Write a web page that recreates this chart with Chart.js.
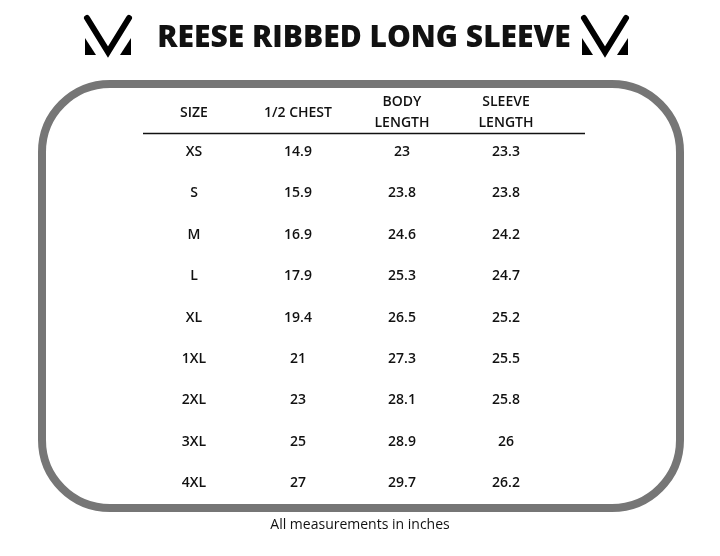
<!DOCTYPE html>
<html>
<head>
<meta charset="utf-8">
<script src="https://cdn.jsdelivr.net/npm/chart.js@4/dist/chart.umd.min.js"></script>
<style>
  html, body { margin: 0; padding: 0; background: #fff; }
  #wrap { width: 720px; height: 556px; }
</style>
</head>
<body>
<div id="wrap"><canvas id="c"></canvas></div>
<script>
const sizes = ['XS', 'S', 'M', 'L', 'XL', '1XL', '2XL', '3XL', '4XL'];
const chest = ['14.9', '15.9', '16.9', '17.9', '19.4', '21', '23', '25', '27'];
const bodyLength = ['23', '23.8', '24.6', '25.3', '26.5', '27.3', '28.1', '28.9', '29.7'];
const sleeveLength = ['23.3', '23.8', '24.2', '24.7', '25.2', '25.5', '25.8', '26', '26.2'];
const headers = [['SIZE'], ['1/2 CHEST'], ['BODY', 'LENGTH'], ['SLEEVE', 'LENGTH']];
const columns = [sizes, chest, bodyLength, sleeveLength];

const FONT = '"Open Sans", "Noto Sans", sans-serif';

function logo(ctx, x) {
  ctx.save();
  ctx.strokeStyle = '#000';
  ctx.fillStyle = '#000';
  ctx.lineWidth = 6;
  ctx.lineCap = 'round';
  ctx.beginPath();
  ctx.moveTo(x + 2, 18);
  ctx.lineTo(x + 23, 52);
  ctx.lineTo(x + 44, 18);
  ctx.stroke();
  ctx.beginPath();
  ctx.moveTo(x, 38); ctx.lineTo(x, 55); ctx.lineTo(x + 11, 55); ctx.closePath(); ctx.fill();
  ctx.beginPath();
  ctx.moveTo(x + 46, 38); ctx.lineTo(x + 46, 55); ctx.lineTo(x + 35, 55); ctx.closePath(); ctx.fill();
  ctx.restore();
}

const tablePlugin = {
  id: 'table',
  beforeDatasetsDraw(chart) {
    const ctx = chart.ctx;
    const xs = chart.scales.x, ys = chart.scales.y;
    ctx.save();
    // frame
    ctx.strokeStyle = '#767676';
    ctx.lineWidth = 8;
    ctx.beginPath();
    ctx.roundRect(42, 84, 638, 424, 68);
    ctx.stroke();
    // title
    ctx.fillStyle = '#111';
    ctx.textAlign = 'center';
    ctx.textBaseline = 'middle';
    ctx.font = '800 30px ' + FONT;
    ctx.fillText('REESE RIBBED LONG SLEEVE', 364, 38);
    logo(ctx, 85);
    logo(ctx, 582);
    // headers
    ctx.font = '600 14px ' + FONT;
    headers.forEach((h, i) => {
      const px = xs.getPixelForValue(i);
      const py = ys.getPixelForValue(-1);
      if (h.length === 1) ctx.fillText(h[0], px, py + 2);
      else { ctx.fillText(h[0], px, py - 9); ctx.fillText(h[1], px, py + 12); }
    });
    ctx.strokeStyle = '#111';
    ctx.lineWidth = 1.5;
    const ly = ys.getPixelForValue(-0.45);
    ctx.beginPath();
    ctx.moveTo(143, ly); ctx.lineTo(585, ly);
    ctx.stroke();
    // cells
    ctx.font = '600 14px ' + FONT;
    columns.forEach((col, i) => {
      col.forEach((v, r) => {
        ctx.fillText(v, xs.getPixelForValue(i), ys.getPixelForValue(r));
      });
    });
    ctx.font = '500 14px ' + FONT;
    ctx.fillText('All measurements in inches', 360, 525);
    ctx.restore();
  }
};

new Chart(document.getElementById('c'), {
  type: 'scatter',
  data: {
    datasets: columns.map((col, i) => ({
      data: col.map((v, r) => ({ x: i, y: r })),
      pointRadius: 0
    }))
  },
  options: {
    responsive: true,
    maintainAspectRatio: false,
    animation: false,
    layout: { padding: { left: 90, right: 110, top: 90, bottom: 52 } },
    scales: {
      x: { type: 'linear', min: -1, max: 4, display: false },
      y: { type: 'linear', min: -1.5, max: 8.5, reverse: true, display: false }
    },
    plugins: { legend: { display: false }, tooltip: { enabled: false } }
  },
  plugins: [tablePlugin]
});
</script>
</body>
</html>
